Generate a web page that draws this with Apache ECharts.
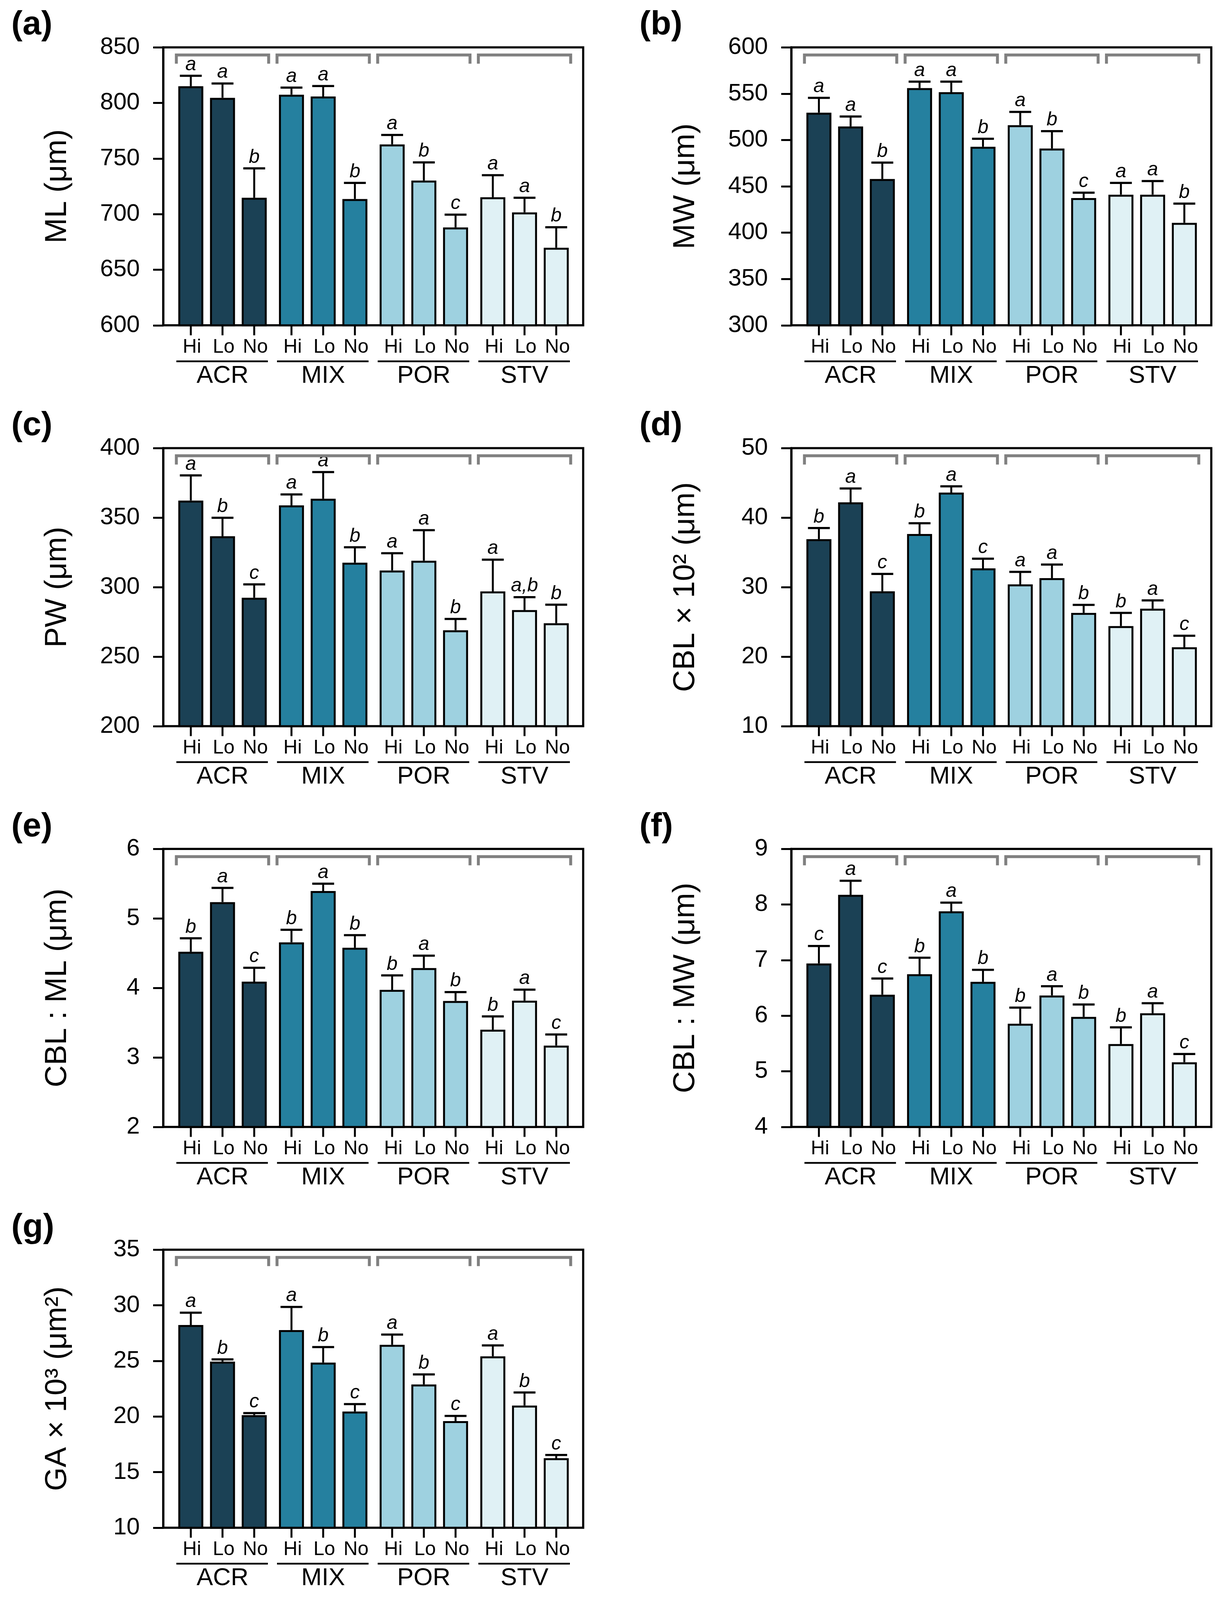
<!DOCTYPE html>
<html><head><meta charset="utf-8">
<script src="https://cdn.jsdelivr.net/npm/echarts@6/dist/echarts.min.js"></script>
<style>html,body{margin:0;padding:0;background:#fff;overflow:hidden}#c{width:3131px;height:4495px}</style>
</head><body><div id="c"></div>
<script>
// ---------- data ----------
const groups = ['ACR', 'MIX', 'POR', 'STV'];
const levels = ['Hi', 'Lo', 'No'];
const groupColors = ['#1B4155', '#25809F', '#9ED1E0', '#E0F1F5'];

// (a) ML
const mlMean = [815, 804.6, 714.7, 807.4, 805.8, 713.6, 762.7, 730.2, 688.0, 715.2, 701.6, 669.8];
const mlErr = [9.4, 12.9, 26.5, 6.4, 9.4, 14.5, 8.5, 16.3, 11.5, 19.8, 13.1, 18.4];
const mlLetters = ['a', 'a', 'b', 'a', 'a', 'b', 'a', 'b', 'c', 'a', 'a', 'b'];
const mlTicks = [600, 850, 50];

// (b) MW
const mwMean = [529.5, 514.6, 457.9, 556, 551.6, 492.7, 516, 490.8, 437.4, 441, 441, 410.6];
const mwErr = [16, 10.8, 17.7, 7, 11.4, 8.6, 14.3, 18.8, 5.8, 12.7, 14.7, 20.8];
const mwLetters = ['a', 'a', 'b', 'a', 'a', 'b', 'a', 'b', 'c', 'a', 'a', 'b'];
const mwTicks = [300, 600, 50];

// (c) PW
const pwMean = [362.3, 336.6, 292.4, 358.8, 363.6, 317.6, 312, 319, 269, 296.9, 283.5, 274];
const pwErr = [18.1, 13.3, 9.6, 7.9, 19.2, 11.1, 12.4, 22, 8.1, 22.9, 9.3, 13.4];
const pwLetters = ['a', 'b', 'c', 'a', 'a', 'b', 'a', 'a', 'b', 'a', 'a,b', 'b'];
const pwTicks = [200, 400, 50];

// (d) CBL x 10^2
const cblMean = [36.9, 42.2, 29.4, 37.65, 43.6, 32.7, 30.4, 31.3, 26.3, 24.4, 26.9, 21.35];
const cblErr = [1.6, 2.0, 2.5, 1.55, 0.9, 1.4, 1.8, 1.95, 1.15, 1.9, 1.2, 1.65];
const cblLetters = ['b', 'a', 'c', 'b', 'a', 'c', 'a', 'a', 'b', 'b', 'a', 'c'];
const cblTicks = [10, 50, 10];

// (e) CBL : ML
const cmlMean = [4.52, 5.235, 4.09, 4.656, 5.394, 4.578, 3.972, 4.286, 3.813, 3.40, 3.817, 3.171];
const cmlErr = [0.195, 0.205, 0.2, 0.181, 0.106, 0.182, 0.208, 0.178, 0.127, 0.19, 0.159, 0.159];
const cmlLetters = ['b', 'a', 'c', 'b', 'a', 'b', 'b', 'a', 'b', 'b', 'a', 'c'];
const cmlTicks = [2, 6, 1];

// (f) CBL : MW
const cmwMean = [6.94, 8.174, 6.378, 6.747, 7.878, 6.609, 5.856, 6.364, 5.98, 5.491, 6.045, 5.163];
const cmwErr = [0.315, 0.254, 0.292, 0.296, 0.157, 0.217, 0.291, 0.166, 0.222, 0.3, 0.18, 0.148];
const cmwLetters = ['c', 'a', 'c', 'b', 'a', 'b', 'b', 'a', 'b', 'b', 'a', 'c'];
const cmwTicks = [4, 9, 1];

// (g) GA x 10^3
const gaMean = [28.23, 24.94, 20.13, 27.78, 24.85, 20.45, 26.45, 22.88, 19.59, 25.41, 20.99, 16.25];
const gaErr = [1.11, 0.2, 0.18, 2.08, 1.4, 0.67, 0.92, 0.91, 0.47, 0.99, 1.17, 0.29];
const gaLetters = ['a', 'b', 'c', 'a', 'b', 'c', 'a', 'b', 'c', 'a', 'b', 'c'];
const gaTicks = [10, 35, 5];

// ---------- layout ----------
// fit the full figure height into the visible viewport (vertical scale only)
const FULL_H = 4495;
const VIEW_H = Math.min(FULL_H, window.innerHeight || FULL_H);
const SY = VIEW_H / FULL_H;
document.getElementById('c').style.height = VIEW_H + 'px';

const FONT = '"Liberation Sans", Arial, Helvetica, sans-serif';
const COL_LEFT = [418, 2026];
const ROW_TOP = [133, 1259, 2385, 3511].map(v => v * SY);
const PLOT_W = 1075, PLOT_H = 781 * SY;
const GROUP_STEP = 3.175;
const X_MIN = -0.868, X_MAX = 3 * GROUP_STEP + 2 + 0.85;
function barX(k) { return Math.floor(k / 3) * GROUP_STEP + (k % 3); }

const FS_TICK = Math.round(67 * SY);
const FS_SMALL = Math.round(55 * SY);
const FS_GROUP = Math.round(69 * SY);
const FS_LETTER = Math.round(55 * SY);
const FS_TITLE = Math.round(86 * SY);
const FS_TAG = Math.round(94 * SY);

const panels = [
  { tag: '(a)', title: 'ML (μm)', ticks: mlTicks, mean: mlMean, err: mlErr, letters: mlLetters, col: 0, row: 0 },
  { tag: '(b)', title: 'MW (μm)', ticks: mwTicks, mean: mwMean, err: mwErr, letters: mwLetters, col: 1, row: 0 },
  { tag: '(c)', title: 'PW (μm)', ticks: pwTicks, mean: pwMean, err: pwErr, letters: pwLetters, col: 0, row: 1 },
  { tag: '(d)', title: 'CBL × 10² (μm)', ticks: cblTicks, mean: cblMean, err: cblErr, letters: cblLetters, col: 1, row: 1 },
  { tag: '(e)', title: 'CBL : ML (μm)', ticks: cmlTicks, mean: cmlMean, err: cmlErr, letters: cmlLetters, col: 0, row: 2 },
  { tag: '(f)', title: 'CBL : MW (μm)', ticks: cmwTicks, mean: cmwMean, err: cmwErr, letters: cmwLetters, col: 1, row: 2 },
  { tag: '(g)', title: 'GA × 10³ (μm²)', ticks: gaTicks, mean: gaMean, err: gaErr, letters: gaLetters, col: 0, row: 3 }
];

function makeBarDecor(p) {
  return function (params, api) {
    const x = api.value(0), m = api.value(1), e = api.value(2), k = api.value(3);
    const top = api.coord([x, m]);
    const cap = api.coord([x, m + e]);
    const cs = params.coordSys;
    const bottom = cs.y + cs.height;
    const cx = top[0];
    return {
      type: 'group', children: [
        { type: 'line', shape: { x1: cx, y1: top[1], x2: cx, y2: cap[1] }, style: { stroke: '#000', lineWidth: 5 } },
        { type: 'line', shape: { x1: cx - 28, y1: cap[1], x2: cx + 28, y2: cap[1] }, style: { stroke: '#000', lineWidth: 5.5 } },
        { type: 'text', style: { text: p.letters[k], x: cx, y: cap[1] - 31 * SY, fill: '#000', font: 'italic ' + FS_LETTER + 'px ' + FONT, align: 'center', verticalAlign: 'middle' } },
        { type: 'line', shape: { x1: cx, y1: bottom, x2: cx, y2: bottom + 28 * SY }, style: { stroke: '#000', lineWidth: 5 } },
        { type: 'text', style: { text: levels[k % 3], x: cx + 3, y: bottom + 62 * SY, fill: '#000', font: FS_SMALL + 'px ' + FONT, align: 'center', verticalAlign: 'middle' } }
      ]
    };
  };
}

function makeGroupDecor(p) {
  return function (params, api) {
    const yTop = p.ticks[1];
    const xh = api.coord([api.value(0), yTop])[0];
    const xn = api.coord([api.value(2), yTop])[0];
    const gi = api.value(3);
    const cs = params.coordSys;
    const top = cs.y, bottom = cs.y + cs.height;
    return {
      type: 'group', children: [
        { type: 'polyline', shape: { points: [[xh - 37, top + 46 * SY], [xh - 37, top + 21.5 * SY], [xn + 37, top + 21.5 * SY], [xn + 37, top + 46 * SY]] },
          style: { stroke: '#808080', lineWidth: 7.5, fill: null, lineJoin: 'miter' } },
        { type: 'line', shape: { x1: xh - 37, y1: bottom + 101 * SY, x2: xn + 35, y2: bottom + 101 * SY }, style: { stroke: '#000', lineWidth: 4.5 } },
        { type: 'text', style: { text: groups[gi], x: (xh + xn) / 2, y: bottom + 142 * SY, fill: '#000', font: FS_GROUP + 'px ' + FONT, align: 'center', verticalAlign: 'middle' } }
      ]
    };
  };
}

const grid = [], xAxis = [], yAxis = [], series = [], graphic = [];
panels.forEach((p, pi) => {
  const left = COL_LEFT[p.col], top = ROW_TOP[p.row];
  grid.push({ left: left, top: top, width: PLOT_W, height: PLOT_H, show: true, borderColor: '#000', borderWidth: 5.5, backgroundColor: 'transparent' });
  xAxis.push({ gridIndex: pi, type: 'value', min: X_MIN, max: X_MAX, axisLine: { show: false, onZero: false }, axisTick: { show: false }, axisLabel: { show: false }, splitLine: { show: false } });
  yAxis.push({
    gridIndex: pi, type: 'value', min: p.ticks[0], max: p.ticks[1], interval: p.ticks[2],
    axisLine: { show: true, onZero: false, lineStyle: { color: '#000', width: 5.5 } },
    axisTick: { show: true, length: 26, lineStyle: { color: '#000', width: 5 } },
    axisLabel: { margin: 60, fontSize: FS_TICK, fontFamily: FONT, color: '#000' },
    splitLine: { show: false },
    name: p.title, nameLocation: 'middle', nameGap: 232,
    nameTextStyle: { fontSize: FS_TITLE, fontFamily: FONT, color: '#000' }
  });
  series.push({
    type: 'bar', xAxisIndex: pi, yAxisIndex: pi, barWidth: 64, z: 2, silent: true,
    itemStyle: { borderColor: '#000', borderWidth: 5 },
    data: p.mean.map((v, k) => ({ value: [barX(k), v], itemStyle: { color: groupColors[Math.floor(k / 3)] } }))
  });
  series.push({
    type: 'custom', xAxisIndex: pi, yAxisIndex: pi, z: 3, silent: true,
    data: p.mean.map((v, k) => [barX(k), v, p.err[k], k]),
    renderItem: makeBarDecor(p)
  });
  series.push({
    type: 'custom', xAxisIndex: pi, yAxisIndex: pi, z: 3, silent: true,
    data: groups.map((g, gi) => [barX(gi * 3), p.ticks[1], barX(gi * 3 + 2), gi]),
    renderItem: makeGroupDecor(p)
  });
  graphic.push({ type: 'text', x: left - 389, y: top - 62 * SY, style: { text: p.tag, font: 'bold ' + FS_TAG + 'px ' + FONT, fill: '#000', align: 'left', verticalAlign: 'middle' } });
});

const chart = echarts.init(document.getElementById('c'));
chart.setOption({ animation: false, backgroundColor: '#fff', grid, xAxis, yAxis, series, graphic });
</script></body></html>
